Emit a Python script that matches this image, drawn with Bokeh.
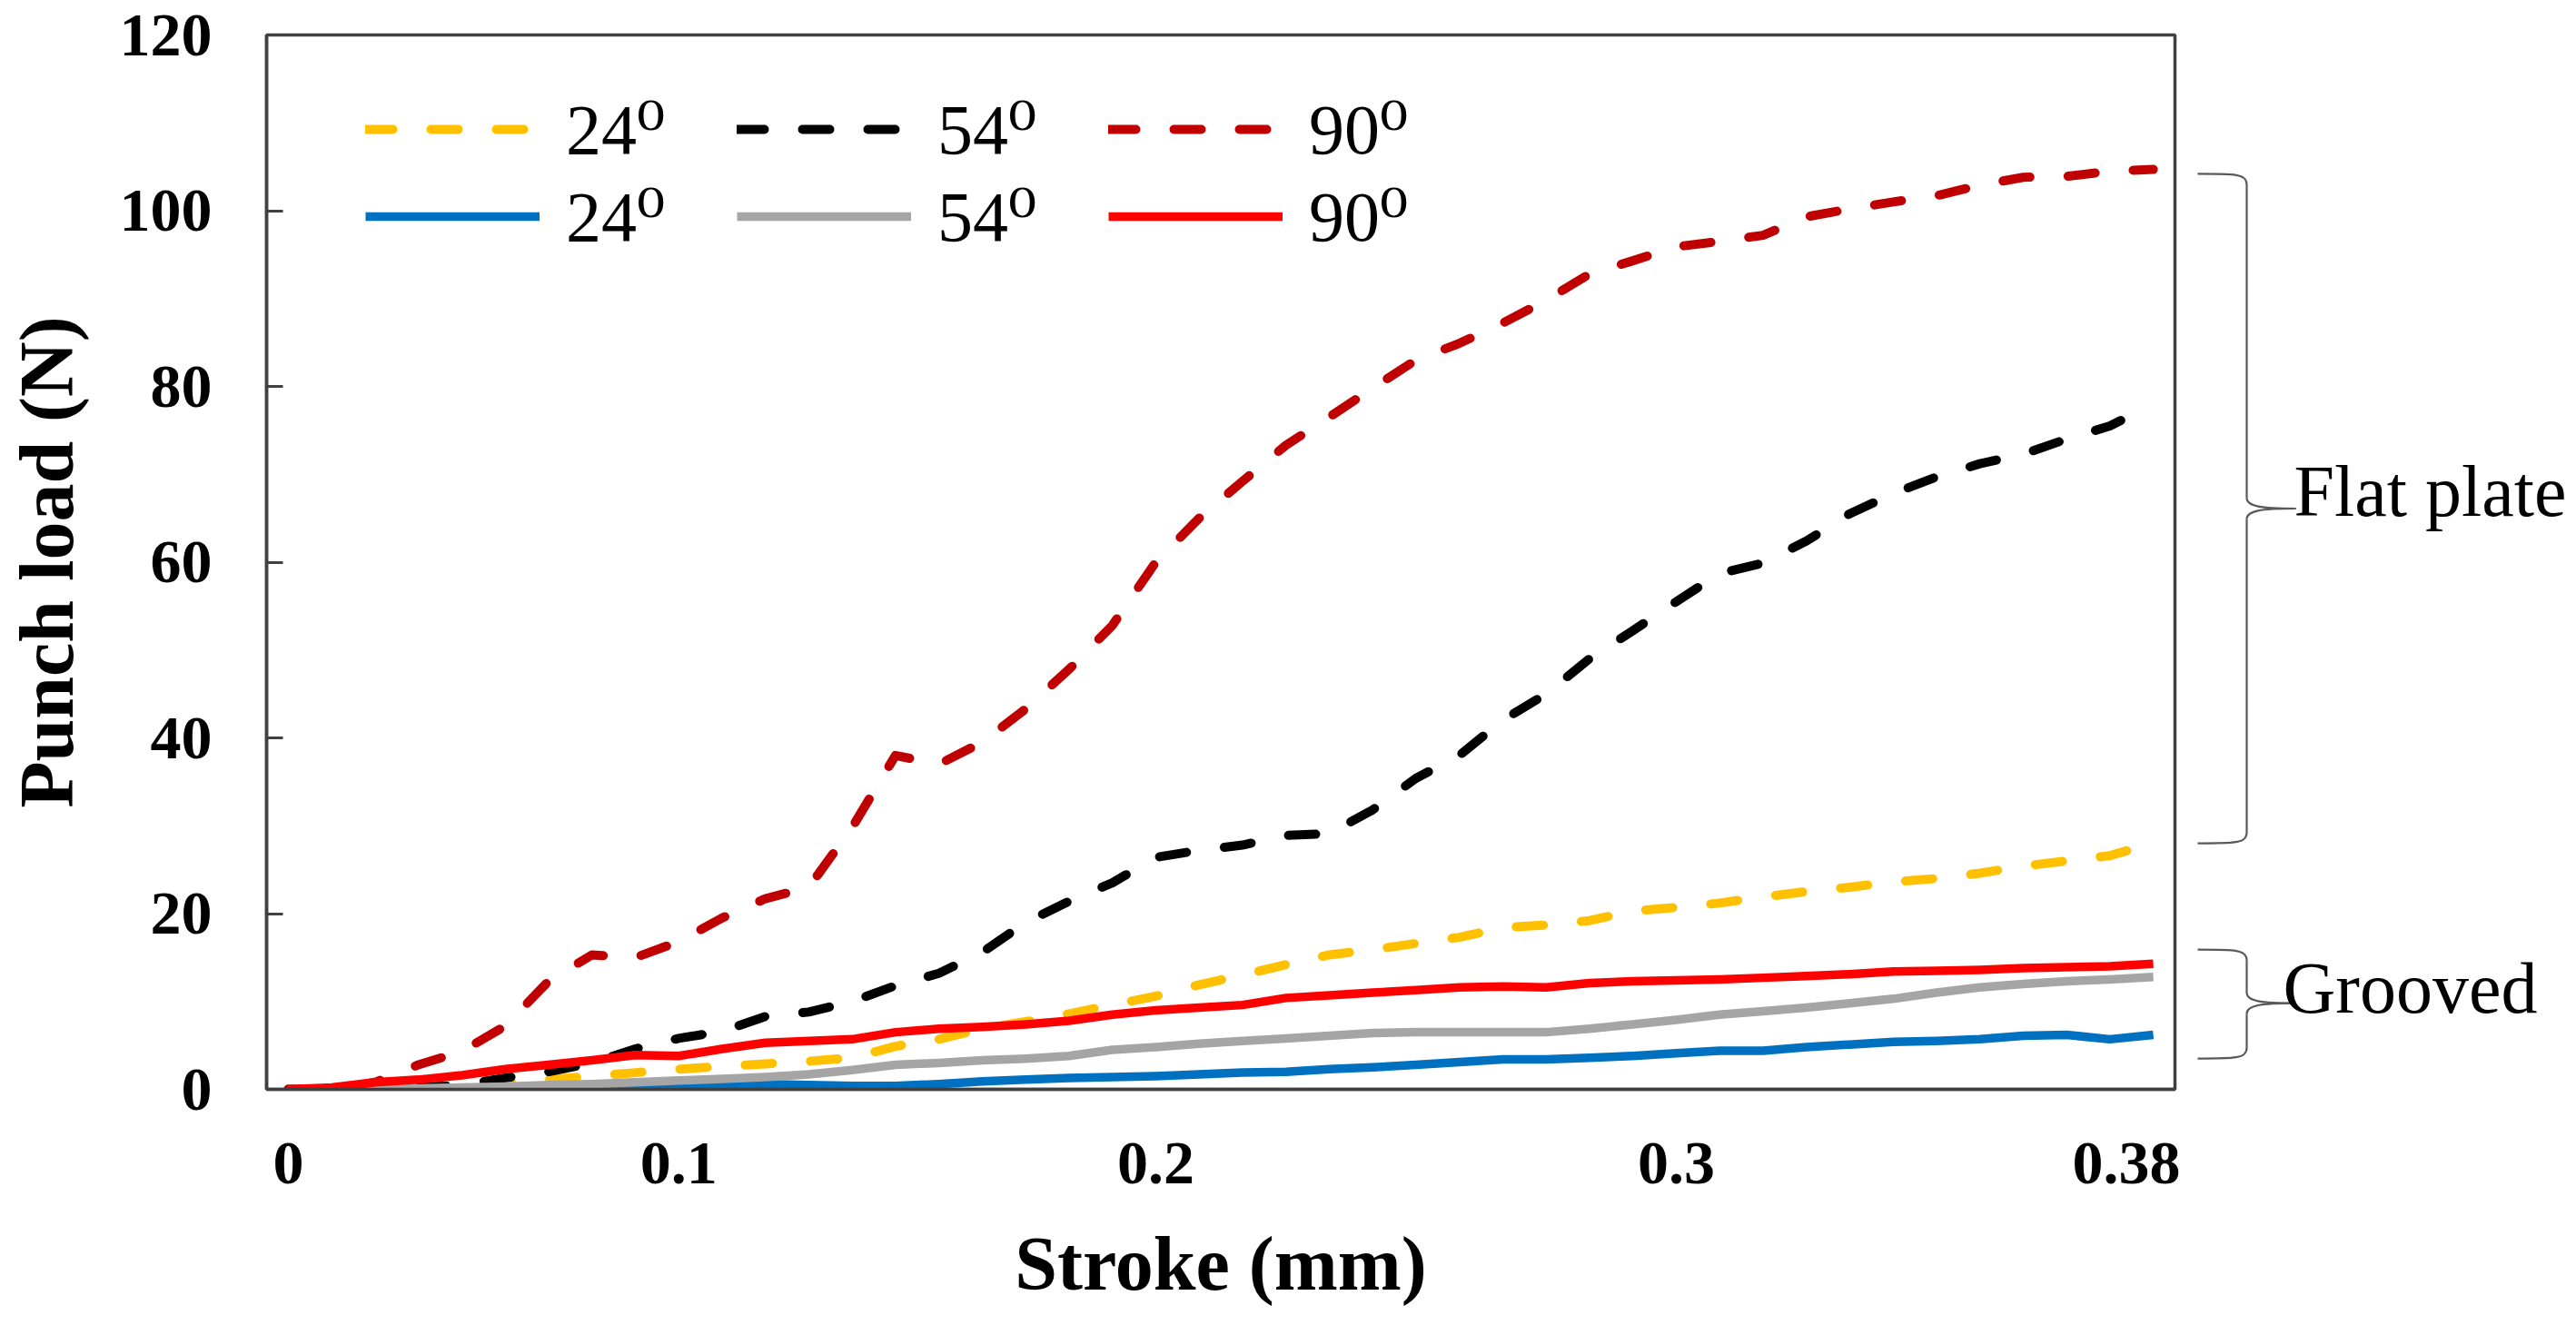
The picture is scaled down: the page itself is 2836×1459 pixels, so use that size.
from bokeh.plotting import figure
from bokeh.models import Range1d, FixedTicker, Legend, LegendItem
from bokeh.layouts import row
from bokeh.embed import file_html
from bokeh.resources import INLINE
from bokeh.core.properties import value

# ---------------- data ----------------
sample = list(range(44))                       # sample index along the stroke
x_tick_pos = [0, 9, 20, 32, 43]
x_tick_labels = ["0", "0.1", "0.2", "0.3", "0.38"]
y_ticks = [0, 20, 40, 60, 80, 100, 120]

flat_24 = [0, 0, 0, 0.1, 0.3, 0.7, 1.1, 1.5, 1.9, 2.3, 2.6, 2.9, 3.2, 3.6, 4.9,
           5.7, 6.9, 7.7, 8.6, 9.6, 10.6, 11.9, 13.0, 14.2, 15.3, 15.9, 16.6,
           17.3, 18.4, 18.7, 19.2, 20.3, 20.7, 21.2, 21.9, 22.5, 23.0, 23.6,
           24.0, 24.6, 25.4, 26.0, 26.6, 28.0]
flat_54 = [0, 0, 0, 0.2, 0.5, 1.3, 2.0, 3.0, 4.6, 5.8, 6.6, 8.3, 8.8, 10.0, 11.8,
           13.2, 15.6, 19.0, 21.4, 23.5, 26.4, 27.2, 27.8, 28.9, 29.1, 31.8,
           35.4, 38.0, 42.0, 45.0, 49.0, 52.2, 55.5, 58.7, 59.9, 62.4, 65.5,
           67.8, 69.7, 71.2, 72.3, 74.0, 75.5, 78.0]
flat_90 = [0, 0, 0.8, 2.8, 4.3, 7.2, 12.3, 15.3, 15.0, 16.8, 19.5, 21.7, 23.0,
           29.8, 38.0, 37.0, 39.5, 43.3, 47.8, 52.8, 60.0, 65.0, 69.2, 73.3,
           76.5, 79.8, 83.0, 84.9, 87.2, 89.8, 92.8, 94.3, 95.9, 96.5, 97.2,
           99.3, 100.2, 101.0, 101.7, 102.9, 103.8, 103.9, 104.5, 104.7]
groove_24 = [0, 0, 0, 0, 0, 0, 0, 0, 0, 0.1, 0.4, 0.6, 0.5, 0.4, 0.4, 0.6, 0.9,
             1.1, 1.3, 1.4, 1.5, 1.7, 1.9, 2.0, 2.3, 2.5, 2.8, 3.1, 3.4, 3.4,
             3.6, 3.8, 4.1, 4.4, 4.4, 4.8, 5.1, 5.4, 5.5, 5.7, 6.1, 6.2, 5.7, 6.2]
groove_54 = [0, 0, 0, 0.1, 0.2, 0.3, 0.5, 0.6, 0.8, 1.0, 1.2, 1.4, 1.7, 2.2, 2.8,
             3.0, 3.3, 3.5, 3.8, 4.5, 4.8, 5.2, 5.5, 5.8, 6.1, 6.4, 6.5, 6.5,
             6.5, 6.5, 6.9, 7.4, 7.9, 8.5, 8.9, 9.3, 9.8, 10.3, 11.0, 11.6,
             12.0, 12.3, 12.5, 12.8]
groove_90 = [0, 0.2, 0.8, 1.1, 1.6, 2.3, 2.8, 3.3, 3.9, 3.8, 4.6, 5.3, 5.5, 5.7,
             6.5, 6.9, 7.1, 7.4, 7.8, 8.5, 9.0, 9.3, 9.6, 10.4, 10.7, 11.0,
             11.3, 11.6, 11.7, 11.6, 12.1, 12.3, 12.4, 12.5, 12.7, 12.9, 13.1,
             13.4, 13.5, 13.6, 13.8, 13.9, 14.0, 14.3]

labels = ["24\u2070", "54\u2070", "90\u2070", "24\u2070", "54\u2070", "90\u2070"]
series = [flat_24, flat_54, flat_90, groove_24, groove_54, groove_90]
colors = ["#FFC000", "#000000", "#C00000", "#0070C0", "#A5A5A5", "#FF0000"]
dashed = [True, True, True, False, False, False]

# brace groups: (bottom, top, tip) in load units, text, text baseline
flat_brace = (28.0, 104.2, 66.1)
groove_brace = (3.5, 15.9, 9.8)
brace_texts = ["Flat plate", "Grooved"]
brace_text_y = [68.1, 11.5]

SERIF = "Liberation Serif"
LEG_FONT = "Liberation Serif, DejaVu Serif"
AXIS_C = "#404040"
TOP, BOTTOM = 38, 260
H = 1459

# ---------------- main figure ----------------
p = figure(width=2400, height=H, output_backend="svg", toolbar_location=None,
           x_range=Range1d(-0.5, 43.5), y_range=Range1d(0, 120),
           min_border_left=293, min_border_right=6, min_border_top=TOP,
           min_border_bottom=BOTTOM)
p.background_fill_color = "white"
p.border_fill_color = "white"
p.outline_line_color = AXIS_C
p.outline_line_width = 3.5
p.xgrid.visible = False
p.ygrid.visible = False

items = []
for vals, lab, col, d in zip(series, labels, colors, dashed):
    r = p.line(sample, vals, line_color=col, line_width=10 if d else 9.5,
               line_dash="30 42" if d else "solid",
               line_cap="round" if d else "butt", line_join="round")
    items.append(LegendItem(label=lab, renderers=[r]))

frame_h = H - TOP - BOTTOM
leg_kw = dict(orientation="horizontal", padding=0, margin=0, spacing=6,
              glyph_width=192, glyph_height=120, label_height=120,
              label_width=182, label_standoff=29,
              border_line_alpha=0, background_fill_alpha=0,
              label_text_font=LEG_FONT, label_text_font_size="78px",
              label_text_color="black")
# row centres 104 px and 200 px below the frame top
leg1 = Legend(items=items[:3], location=(109, frame_h - 104 - 60), **leg_kw)
leg2 = Legend(items=items[3:], location=(109, frame_h - 200 - 60), **leg_kw)
p.add_layout(leg1)
p.add_layout(leg2)

xa = p.xaxis[0]
xa.ticker = FixedTicker(ticks=x_tick_pos)
xa.major_label_overrides = {t: l for t, l in zip(x_tick_pos, x_tick_labels)}
xa.major_tick_in = 0
xa.major_tick_out = 0
xa.minor_tick_in = 0
xa.minor_tick_out = 0
xa.axis_line_color = AXIS_C
xa.axis_line_width = 3.5
xa.major_label_standoff = 59
xa.major_label_text_font = SERIF
xa.major_label_text_font_style = "bold"
xa.major_label_text_font_size = "68px"
xa.major_label_text_color = "black"
xa.axis_label = "Stroke (mm)"
xa.axis_label_standoff = 39
xa.axis_label_text_font = SERIF
xa.axis_label_text_font_style = "bold"
xa.axis_label_text_font_size = "84px"
xa.axis_label_text_color = "black"

ya = p.yaxis[0]
ya.ticker = FixedTicker(ticks=y_ticks)
ya.major_tick_in = 18
ya.major_tick_out = 0
ya.major_tick_line_width = 3
ya.major_tick_line_color = AXIS_C
ya.minor_tick_in = 0
ya.minor_tick_out = 0
ya.axis_line_color = AXIS_C
ya.axis_line_width = 3.5
ya.major_label_standoff = 60
ya.major_label_text_font = SERIF
ya.major_label_text_font_style = "bold"
ya.major_label_text_font_size = "68px"
ya.major_label_text_color = "black"
ya.axis_label = "Punch load (N)"
ya.axis_label_standoff = 31
ya.axis_label_text_font = SERIF
ya.axis_label_text_font_style = "bold"
ya.axis_label_text_font_size = "84px"
ya.axis_label_text_color = "black"

# ---------------- right panel with braces ----------------
p2 = figure(width=436, height=H, output_backend="svg", toolbar_location=None,
            x_range=Range1d(0, 436), y_range=p.y_range,
            min_border_left=0, min_border_right=0, min_border_top=TOP,
            min_border_bottom=BOTTOM, x_axis_location=None, y_axis_location=None)
p2.outline_line_color = None
p2.xgrid.visible = False
p2.ygrid.visible = False
p2.background_fill_color = "white"
p2.border_fill_color = "white"

XS, XV, XT = 19, 73, 127   # brace stub start, spine, tip (px in this panel)
R = 1.2                     # corner size in load units
bz = dict(x0=[], y0=[], x1=[], y1=[], cx0=[], cy0=[], cx1=[], cy1=[])
sg = dict(x0=[], y0=[], x1=[], y1=[])
for (lo, hi, tip) in [flat_brace, groove_brace]:
    for vals in ([XS, hi, XV, hi - R, 60, hi, XV, hi],
                 [XS, lo, XV, lo + R, 60, lo, XV, lo],
                 [XV, tip + R, XT, tip, XV, tip + 0.2 * R, 88, tip],
                 [XV, tip - R, XT, tip, XV, tip - 0.2 * R, 88, tip]):
        for k, v in zip(bz.keys(), vals):
            bz[k].append(v)
    for vals in ([XV, hi - R, XV, tip + R], [XV, lo + R, XV, tip - R]):
        for k, v in zip(sg.keys(), vals):
            sg[k].append(v)

p2.bezier(line_color="#595959", line_width=2.2, **bz)
p2.segment(line_color="#595959", line_width=2.2, **sg)
p2.text(x=[125, 113], y=brace_text_y, text=brace_texts,
        text_font=value(SERIF), text_font_size="80px", text_color="black",
        text_baseline="alphabetic", text_align="left")

layout = row(p, p2)
open("out.html", "w").write(file_html(layout, INLINE))
